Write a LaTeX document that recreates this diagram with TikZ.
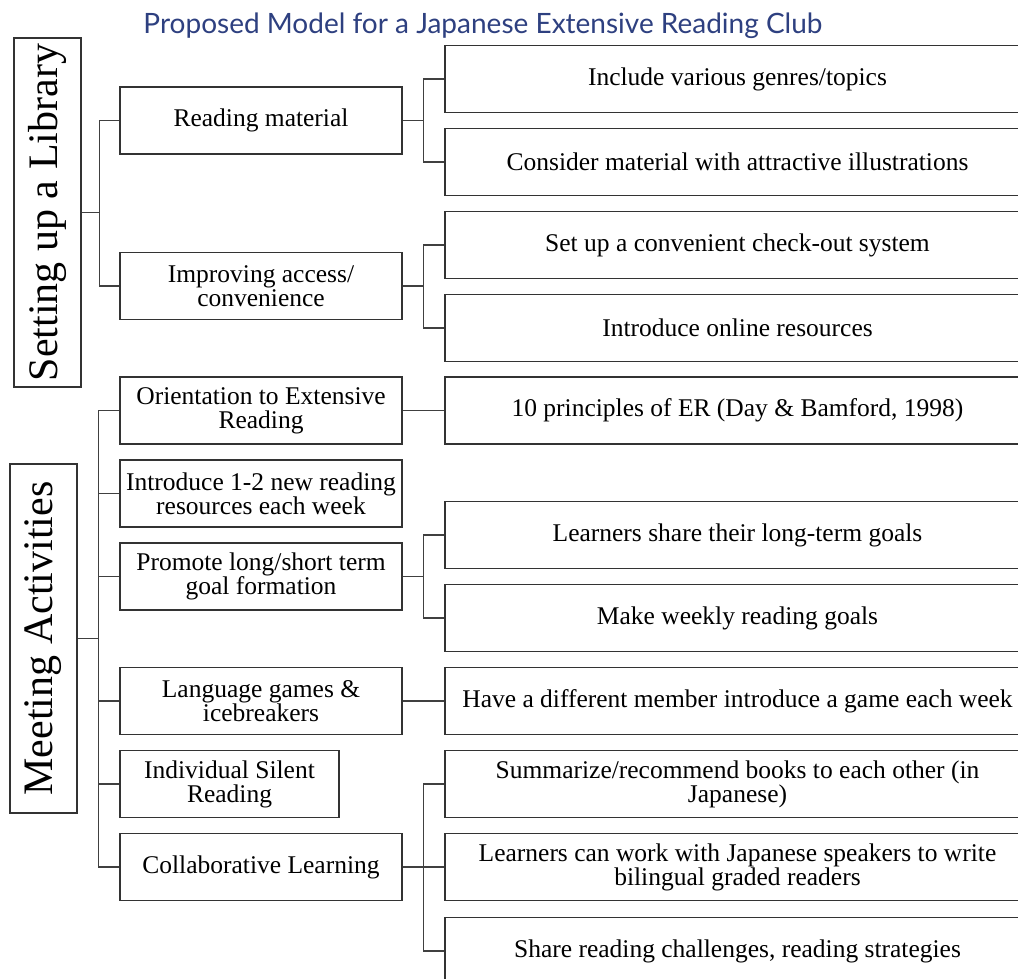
\documentclass[tikz,border=0pt]{standalone}
\usepackage{fontspec}
\setmainfont{Liberation Serif}
\newfontfamily\titlefont{Lato}
\definecolor{titleblue}{RGB}{46,64,128}
\begin{document}
\begin{tikzpicture}[x=1pt,y=-1pt,
  box/.style={draw=black!80, line width=1.1pt, align=center, inner sep=0pt, font=\fontsize{25.5}{24}\selectfont},
  mid/.style={box, minimum width=282pt, minimum height=67pt},
  leaf/.style={box, minimum width=585pt, minimum height=67pt},
  side/.style={draw=black!80, line width=1.1pt, minimum width=67pt, minimum height=349pt, inner sep=0pt},
  sidetext/.style={rotate=90, font=\fontsize{42}{42}\selectfont, inner sep=0pt},
  conn/.style={draw=black!75, line width=1.1pt}]
\clip (0,0) rectangle (1018,978);
\fill[white] (0,0) rectangle (1018,978);

\node[anchor=base, font=\titlefont\fontsize{28}{28}\selectfont, text=titleblue] (title) at (483,33) {Proposed Model for a Japanese Extensive Reading Club};

% Setting up a library
\node[side] (lib) at (47.5,212.5) {};
\node[sidetext] (libt) at (lib.center) {Setting up a Library};
\node[mid] (rm) at (261,120.5) {Reading material};
\node[mid] (ia) at (261,286) {Improving access/\\convenience};
\node[leaf] (r1) at (737.5,79) {Include various genres/topics};
\node[leaf] (r2) at (737.5,162) {Consider material with attractive illustrations};
\node[leaf] (r3) at (737.5,245) {Set up a convenient check-out system};
\node[leaf] (r4) at (737.5,328) {Introduce online resources};

\draw[conn] (rm.west) -- ++(-20,0) |- (lib.east);
\draw[conn] (ia.west) -- ++(-20,0) |- (lib.east);
\draw[conn] (rm.east) -- ++(21,0) |- (r1.west);
\draw[conn] (rm.east) -- ++(21,0) |- (r2.west);
\draw[conn] (ia.east) -- ++(21,0) |- (r3.west);
\draw[conn] (ia.east) -- ++(21,0) |- (r4.west);

% Meeting activities
\node[side] (ma) at (43.5,638.5) {};
\node[sidetext] (mat) at (ma.center) {Meeting Activities};
\node[mid] (m1) at (261,410.5) {Orientation to Extensive\\Reading};
\node[mid] (m2) at (261,493.5) {Introduce 1-2 new reading\\resources each week};
\node[mid] (m3) at (261,576.5) {Promote long/short term\\goal formation};
\node[mid] (m4) at (261,701) {Language games \&\\icebreakers};
\node[box, minimum width=219pt, minimum height=67pt] (m5) at (229.5,784) {Individual Silent\\Reading};
\node[mid] (m6) at (261,867) {Collaborative Learning};

\node[leaf] (r5) at (737.5,410.5) {10 principles of ER (Day \& Bamford, 1998)};
\node[leaf] (r6) at (737.5,535) {Learners share their long-term goals};
\node[leaf] (r7) at (737.5,618) {Make weekly reading goals};
\node[leaf] (r8) at (737.5,701) {Have a different member introduce a game each week};
\node[leaf] (r9) at (737.5,784) {Summarize/recommend books to each other (in\\Japanese)};
\node[leaf] (r10) at (737.5,867) {Learners can work with Japanese speakers to write\\bilingual graded readers};
\node[leaf] (r11) at (737.5,951) {Share reading challenges, reading strategies};

\foreach \m in {m1,m2,m3,m4,m5,m6}{
  \draw[conn] (\m.west) -- ++(-21,0) |- (ma.east);
}
\draw[conn] (m1.east) -- (r5.west);
\draw[conn] (m3.east) -- ++(21,0) |- (r6.west);
\draw[conn] (m3.east) -- ++(21,0) |- (r7.west);
\draw[conn] (m4.east) -- (r8.west);
\draw[conn] (m6.east) -- ++(21,0) |- (r9.west);
\draw[conn] (m6.east) -- ++(21,0) |- (r10.west);
\draw[conn] (m6.east) -- ++(21,0) |- (r11.west);
\end{tikzpicture}
\end{document}
